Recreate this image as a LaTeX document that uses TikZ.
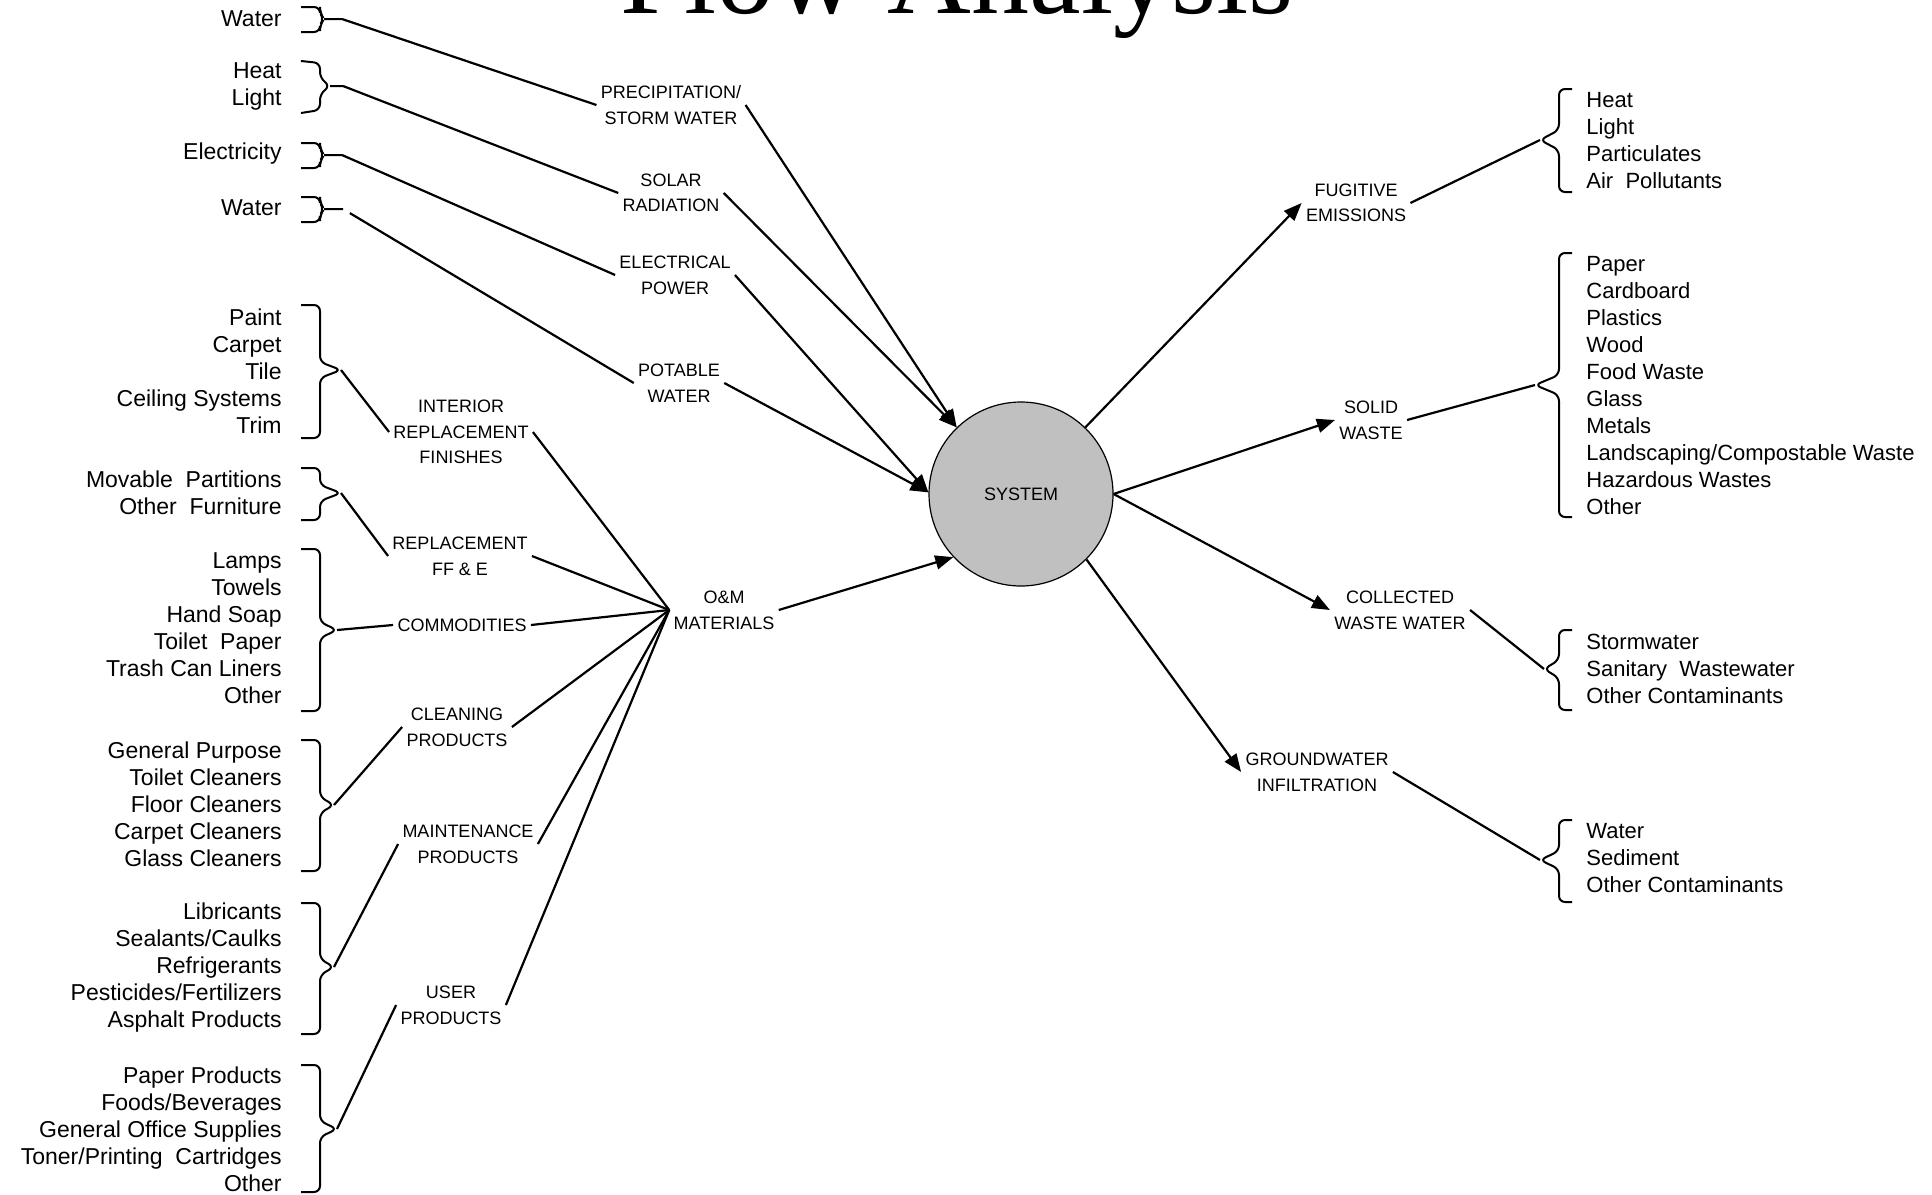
\documentclass[tikz,border=0pt]{standalone}
\usepackage{fontspec}
\setmainfont{Liberation Sans}
\newfontfamily\titlefont{Liberation Serif}
\usetikzlibrary{arrows.meta}

\begin{document}
\begin{tikzpicture}[x=0.5pt,y=0.5pt,yscale=-1,xscale=1,
  listbrace/.style={line width=1pt, rounded corners=3pt},
  link/.style={line width=1.1pt},
  flow/.style={line width=1.1pt, -{Triangle[length=9pt,width=7pt]}},
  flowtag/.style={font={\fontsize{9}{12.8}\selectfont}, align=center, inner sep=2pt},
  inlist/.style={font={\fontsize{11.5}{13.5}\selectfont}, align=right, anchor=east, inner sep=0pt},
  outlist/.style={font={\fontsize{11}{13.5}\selectfont}, align=left, anchor=west, inner sep=0pt}]
\useasboundingbox (0,0) rectangle (1932,1194);
\clip (0,0) rectangle (1932,1194);

% Text Node
\node[font={\titlefont\fontsize{58}{60}\selectfont}, anchor=base] (title) at (957,13) {Flow Analysis};

%Shape: Circle
\node[draw, circle, line width=0.6pt, fill={rgb,255:red,192;green,192;blue,192}, minimum size=92pt, inner sep=0pt, font={\fontsize{9}{11}\selectfont}] (system) at (1021,494) {SYSTEM};

% Text Node
\node[flowtag] (precip) at (671,105) {PRECIPITATION/\\STORM WATER};
\node[flowtag] (solar) at (671,193) {SOLAR\\RADIATION};
\node[flowtag] (elec) at (675,275) {ELECTRICAL\\POWER};
\node[flowtag] (potable) at (679,383) {POTABLE\\WATER};
\node[flowtag] (interior) at (461,432) {INTERIOR\\REPLACEMENT\\FINISHES};
\node[flowtag] (replff) at (460,556) {REPLACEMENT\\FF \& E};
\node[flowtag] (commod) at (462,625) {COMMODITIES};
\node[flowtag] (cleaning) at (457,727) {CLEANING\\PRODUCTS};
\node[flowtag] (maint) at (468,844) {MAINTENANCE\\PRODUCTS};
\node[flowtag] (user) at (451,1005) {USER\\PRODUCTS};
\node[flowtag] (om) at (724,610) {O\&M\\MATERIALS};
\node[flowtag] (fugitive) at (1356,203) {FUGITIVE\\EMISSIONS};
\node[flowtag] (solid) at (1371,420) {SOLID\\WASTE};
\node[flowtag] (collected) at (1400,610) {COLLECTED\\WASTE WATER};
\node[flowtag] (ground) at (1317,772) {GROUNDWATER\\INFILTRATION};

% Text Node
\node[inlist] (lWaterA) at (282,19) {Water};
\node[inlist] (lHeat) at (282,86.5) {Heat\\Light};
\node[inlist] (lElec) at (282,154) {Electricity};
\node[inlist] (lWaterB) at (282,208) {Water};
\node[inlist] (lFinish) at (282,371) {Paint\\Carpet\\Tile\\Ceiling Systems\\Trim};
\node[inlist] (lFurn) at (282,492.5) {Movable\ \ Partitions\\Other\ \ Furniture};
\node[inlist] (lComm) at (282,628) {Lamps\\Towels\\Hand Soap\\Toilet\ \ Paper\\Trash Can Liners\\Other};
\node[inlist] (lClean) at (282,804.5) {General Purpose\\Toilet Cleaners\\Floor Cleaners\\Carpet Cleaners\\Glass Cleaners};
\node[inlist] (lMaint) at (282,967.5) {Libricants\\Sealants/Caulks\\Refrigerants\\Pesticides/Fertilizers\\Asphalt Products};
\node[inlist] (lUser) at (282,1129.5) {Paper Products\\Foods/Beverages\\General Office Supplies\\Toner/Printing\ \ Cartridges\\Other};

% Text Node
\node[outlist] (rFug) at (1586,140.5) {Heat\\Light\\Particulates\\Air\ \ Pollutants};
\node[outlist] (rSolid) at (1586,386) {Paper\\Cardboard\\Plastics\\Wood\\Food Waste\\Glass\\Metals\\Landscaping/Compostable Waste\\Hazardous Wastes\\Other};
\node[outlist] (rColl) at (1586,669) {Stormwater\\Sanitary\ \ Wastewater\\Other Contaminants};
\node[outlist] (rGround) at (1586,858.5) {Water\\Sediment\\Other Contaminants};

%Shape: Brace
\draw[listbrace] (301,7) -- (320,7) -- (320,13) -- (324,19) -- (320,25) -- (320,32) -- (301,32) (324,19) -- (342,19);
\draw[listbrace] (301,61) -- (320,63) -- (320,78) -- (330,86) -- (320,94) -- (320,110) -- (301,113) (330,86) -- (343,86);
\draw[listbrace] (301,143) -- (320,143) -- (320,149) -- (324,155) -- (320,161) -- (320,168) -- (301,168) (324,155) -- (342,155);
\draw[listbrace] (301,197) -- (320,197) -- (320,203) -- (324,209) -- (320,215) -- (320,222) -- (301,222) (324,209) -- (343,209);
\draw[listbrace] (301,305) -- (320,305) -- (320,362) -- (341,370) -- (320,378) -- (320,438) -- (301,438);
\draw[listbrace] (301,468) -- (320,468) -- (320,485) -- (341,493) -- (320,501) -- (320,520) -- (301,520);
\draw[listbrace] (301,549) -- (320,549) -- (320,622) -- (337,630) -- (320,638) -- (320,711) -- (301,711);
\draw[listbrace] (301,740) -- (320,740) -- (320,797) -- (334,805) -- (320,813) -- (320,871) -- (301,871);
\draw[listbrace] (301,903) -- (320,903) -- (320,959) -- (334,967) -- (320,975) -- (320,1034) -- (301,1034);
\draw[listbrace] (301,1065) -- (320,1065) -- (320,1121) -- (337,1129) -- (320,1137) -- (320,1192) -- (301,1192);

%Shape: Brace
\draw[listbrace] (1572,89) -- (1559,89) -- (1559,130) -- (1540,140) -- (1559,150) -- (1559,192) -- (1572,192);
\draw[listbrace] (1572,253) -- (1559,253) -- (1559,375) -- (1535,385) -- (1559,395) -- (1559,517) -- (1572,517);
\draw[listbrace] (1572,630) -- (1559,630) -- (1559,660) -- (1544,669) -- (1559,678) -- (1559,710) -- (1572,710);
\draw[listbrace] (1572,820) -- (1559,820) -- (1559,851) -- (1540,860) -- (1559,869) -- (1559,902) -- (1572,902);

% brace tips
\coordinate (tWaterA) at (342,19);
\coordinate (tHeat) at (343,86);
\coordinate (tElec) at (342,155);
\coordinate (tWaterB) at (343,209);
\coordinate (tFinish) at (341,370);
\coordinate (tFurn) at (341,493);
\coordinate (tComm) at (337,630);
\coordinate (tClean) at (334,805);
\coordinate (tMaint) at (334,967);
\coordinate (tUser) at (337,1129);
\coordinate (tFug) at (1540,140);
\coordinate (tSolid) at (1535,385);
\coordinate (tColl) at (1544,669);
\coordinate (tGround) at (1540,860);

%Straight Lines
\draw[link] (tWaterA) -- (precip.west);
\draw[link] (tHeat) -- (solar.west);
\draw[link] (tElec) -- (elec.west);
\draw[link, shorten <=4pt] (tWaterB) -- (potable.west);
\draw[link] (tFinish) -- (interior.west);
\draw[link] (tFurn) -- (replff.west);
\draw[link] (tComm) -- (commod.west);
\draw[link] (tClean) -- (cleaning.west);
\draw[link] (tMaint) -- (maint.west);
\draw[link] (tUser) -- (user.west);

%Straight Lines
\foreach \g in {interior,replff,commod,cleaning,maint,user}
  \draw[link] (om.west) -- (\g.east);

%Straight Lines
\draw[flow] (precip.east) -- (system.134);
\draw[flow] (solar.east) -- (system.134);
\draw[flow] (elec.east) -- (system.179);
\draw[flow] (potable.east) -- (system.179);
\draw[flow] (om.east) -- (system.223);
\draw[flow] (system.46) -- (fugitive.west);
\draw[flow] (system.0) -- (solid.west);
\draw[flow] (system.0) -- (collected.west);
\draw[flow] (system.315) -- (ground.west);

%Straight Lines
\draw[link] (fugitive.east) -- (tFug);
\draw[link] (solid.east) -- (tSolid);
\draw[link] (collected.east) -- (tColl);
\draw[link] (ground.east) -- (tGround);

\end{tikzpicture}
\end{document}
